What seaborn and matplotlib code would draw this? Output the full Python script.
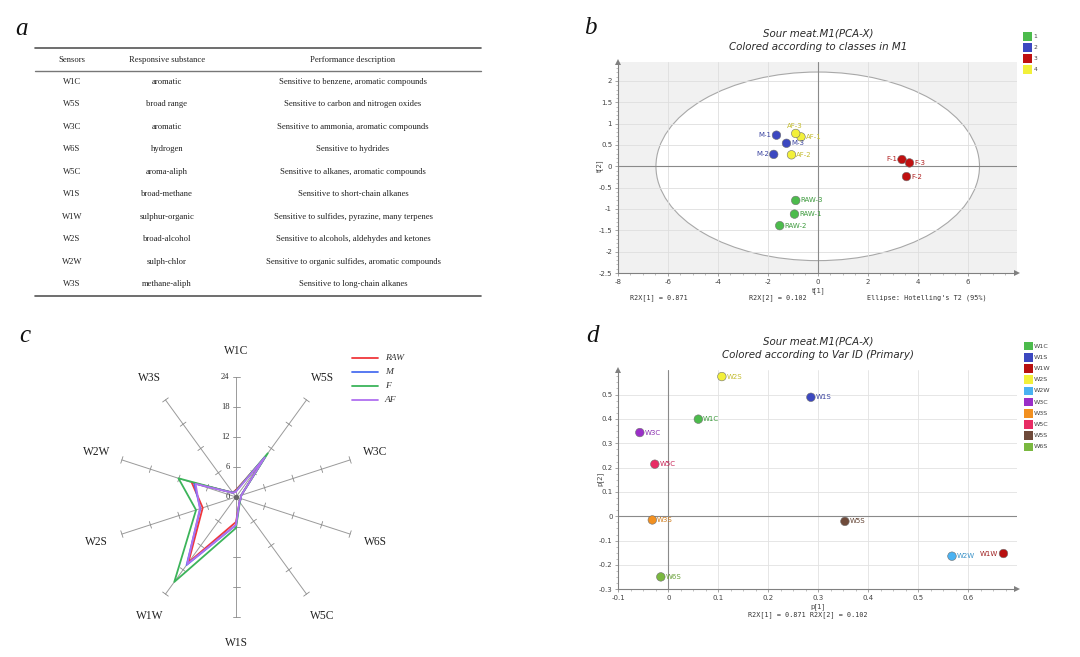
import numpy as np
import pandas as pd
import matplotlib
matplotlib.use("Agg")
import matplotlib.pyplot as plt
import seaborn as sns
from matplotlib.patches import Ellipse, Rectangle
from matplotlib.ticker import MultipleLocator, FuncFormatter

# ---------------- Panel a: sensor table ----------------
table_header = ["Sensors", "Responsive substance", "Performance description"]
table_sensors = ["W1C", "W5S", "W3C", "W6S", "W5C", "W1S", "W1W", "W2S", "W2W", "W3S"]
table_substance = ["aromatic", "broad range", "aromatic", "hydrogen", "aroma-aliph",
                   "broad-methane", "sulphur-organic", "broad-alcohol", "sulph-chlor",
                   "methane-aliph"]
table_description = ["Sensitive to benzene, aromatic compounds",
                     "Sensitive to carbon and nitrogen oxides",
                     "Sensitive to ammonia, aromatic compounds",
                     "Sensitive to hydrides",
                     "Sensitive to alkanes, aromatic compounds",
                     "Sensitive to short-chain alkanes",
                     "Sensitive to sulfides, pyrazine, many terpenes",
                     "Sensitive to alcohols, aldehydes and ketones",
                     "Sensitive to organic sulfides, aromatic compounds",
                     "Sensitive to long-chain alkanes"]

# ---------------- Panel b: PCA scores ----------------
score_labels = ["RAW-1", "RAW-2", "RAW-3", "M-1", "M-2", "M-3",
                "F-1", "F-2", "F-3", "AF-1", "AF-2", "AF-3"]
score_class = ["1", "1", "1", "2", "2", "2", "3", "3", "3", "4", "4", "4"]
score_t1 = [-0.93, -1.52, -0.88, -1.65, -1.76, -1.25, 3.37, 3.55, 3.67, -0.67, -1.05, -0.88]
score_t2 = [-1.12, -1.39, -0.80, 0.73, 0.28, 0.54, 0.16, -0.24, 0.08, 0.69, 0.27, 0.77]
ellipse_semi = [6.47, 2.21]
class_names = ["1", "2", "3", "4"]
r2x = [0.871, 0.102]

# ---------------- Panel c: radar ----------------
radar_sensors = ["W1C", "W5S", "W3C", "W6S", "W5C", "W1S", "W1W", "W2S", "W2W", "W3S"]
radar_raw = [1.4, 9.5, 1.1, 1.0, 1.2, 5.0, 16.2, 7.0, 9.3, 1.1]
radar_m = [1.2, 10.0, 1.1, 1.0, 1.2, 5.6, 16.8, 7.5, 8.8, 1.1]
radar_f = [1.2, 10.8, 1.1, 1.0, 1.3, 6.2, 21.0, 8.4, 12.1, 1.0]
radar_af = [1.1, 9.8, 1.1, 1.0, 1.2, 5.6, 16.6, 7.6, 8.5, 1.0]
radar_groups = ["RAW", "M", "F", "AF"]
radar_ticks = [0, 6, 12, 18, 24]

# ---------------- Panel d: PCA loadings ----------------
load_vars = ["W1C", "W1S", "W1W", "W2S", "W2W", "W3C", "W3S", "W5C", "W5S", "W6S"]
load_p1 = [0.060, 0.285, 0.670, 0.107, 0.567, -0.057, -0.032, -0.027, 0.353, -0.015]
load_p2 = [0.399, 0.489, -0.153, 0.574, -0.164, 0.344, -0.015, 0.214, -0.021, -0.249]

# ---------------- style ----------------
sns.set_style("white")
plt.rcParams["font.family"] = ["DejaVu Sans"]
SERIF = "Liberation Serif"

W, H = 1080, 657
fig = plt.figure(figsize=(W / 100, H / 100), dpi=100)


def rect(x0, y0, x1, y1):
    return [x0 / W, 1 - y1 / H, (x1 - x0) / W, (y1 - y0) / H]


# overlay axes in pixel coordinates for annotations
ov = fig.add_axes([0, 0, 1, 1], zorder=10)
ov.set_xlim(0, W)
ov.set_ylim(H, 0)
ov.axis("off")

# panel letters
for letter, (px, py) in zip("abcd", [(22, 29), (590, 28), (25, 336), (592, 336)]):
    ov.text(px, py, letter, fontsize=18, fontstyle="italic", family=SERIF,
            ha="center", va="center", color="#111")

# ---------------- Panel a ----------------
tab_x0, tab_x1 = 35, 481
col_x = [72, 167, 353]
ov.plot([tab_x0, tab_x1], [48, 48], color="#555", lw=1.2)
ov.plot([tab_x0, tab_x1], [71, 71], color="#777", lw=1.0)
ov.plot([tab_x0, tab_x1], [296, 296], color="#555", lw=1.2)
for cx, txt in zip(col_x, table_header):
    ov.text(cx, 59.5, txt, family=SERIF, fontsize=6.2, ha="center", va="center", color="#222")
row_y0, row_dy = 82, 22.45
for i, (s, sub, d) in enumerate(zip(table_sensors, table_substance, table_description)):
    y = row_y0 + i * row_dy
    for cx, txt in zip(col_x, (s, sub, d)):
        ov.text(cx, y, txt, family=SERIF, fontsize=6.2, ha="center", va="center", color="#222")

# ---------------- Panel b ----------------
class_colors = {"1": "#4cbb4c", "2": "#3c48c0", "3": "#c01010", "4": "#f2f03a"}
label_colors = {"1": "#3c9a3c", "2": "#3b44a0", "3": "#b02020", "4": "#c4bc30"}
label_pos = {"RAW-1": "r", "RAW-2": "r", "RAW-3": "r", "M-1": "l", "M-2": "l", "M-3": "r",
             "F-1": "l", "F-2": "r", "F-3": "r", "AF-1": "r", "AF-2": "r", "AF-3": "u"}

axb = fig.add_axes(rect(617.7, 62, 1017, 273))
axb.set_facecolor("#f1f1f1")
axb.set_xlim(-8, 7.97)
axb.set_ylim(-2.5, 2.445)
axb.add_patch(Ellipse((0, 0), 2 * ellipse_semi[0], 2 * ellipse_semi[1], facecolor="white",
                      edgecolor="#a8a8a8", lw=0.8, zorder=0.4))
for yv in np.arange(-2.0, 2.5, 0.5):
    axb.axhline(yv, color="#dedede", lw=0.6, zorder=0.6)
for xv in range(-6, 8, 2):
    axb.axvline(xv, color="#dedede", lw=0.6, zorder=0.6)
axb.axhline(0, color="#8a8a8a", lw=0.8, zorder=1)
axb.axvline(0, color="#8a8a8a", lw=0.8, zorder=1)

df_b = pd.DataFrame({"t1": score_t1, "t2": score_t2, "cls": score_class, "lab": score_labels})
sns.scatterplot(data=df_b, x="t1", y="t2", hue="cls", palette=class_colors, s=38,
                edgecolor="#707070", linewidth=0.4, legend=False, ax=axb, zorder=3)
for _, r in df_b.iterrows():
    p = label_pos[r["lab"]]
    if p == "r":
        ha, va, off = "left", "center", (3.5, 0)
    elif p == "l":
        ha, va, off = "right", "center", (-3.5, 0)
    else:
        ha, va, off = "center", "bottom", (-1, 3)
    axb.annotate(r["lab"], (r["t1"], r["t2"]), xytext=off, textcoords="offset points",
                 ha=ha, va=va, fontsize=5, color=label_colors[r["cls"]], zorder=4)

fmt = FuncFormatter(lambda v, _: "%g" % v)
axb.xaxis.set_minor_locator(MultipleLocator(0.5))
axb.yaxis.set_major_locator(MultipleLocator(0.5))
axb.yaxis.set_minor_locator(MultipleLocator(0.1))
axb.set_xticks(np.arange(-8, 7, 2))
axb.xaxis.set_major_formatter(fmt)
axb.yaxis.set_major_formatter(fmt)
axb.set_xlabel("")
axb.set_ylabel("")

# ---------------- Panel d ----------------
var_colors = {"W1C": "#4cbb4c", "W1S": "#3c48c0", "W1W": "#b81010", "W2S": "#f2f03a",
              "W2W": "#4ab2f2", "W3C": "#9a2ec8", "W3S": "#f29020", "W5C": "#e82c64",
              "W5S": "#6e4a3a", "W6S": "#7ab840"}
var_text = {"W1C": "#3c9a3c", "W1S": "#3b44a0", "W1W": "#a02020", "W2S": "#c4bc30",
            "W2W": "#3a92c8", "W3C": "#8a2eb0", "W3S": "#d07a18", "W5C": "#c82456",
            "W5S": "#604030", "W6S": "#68a038"}

axd = fig.add_axes(rect(618.3, 370, 1017, 589.3))
axd.set_facecolor("white")
axd.set_xlim(-0.1, 0.697)
axd.set_ylim(-0.3, 0.601)
for yv in np.arange(-0.2, 0.55, 0.1):
    axd.axhline(yv, color="#e2e2e2", lw=0.6, zorder=0.6)
for xv in np.arange(0.1, 0.65, 0.1):
    axd.axvline(xv, color="#e2e2e2", lw=0.6, zorder=0.6)
axd.axhline(0, color="#8a8a8a", lw=0.8, zorder=1)
axd.axvline(0, color="#8a8a8a", lw=0.8, zorder=1)
df_d = pd.DataFrame({"p1": load_p1, "p2": load_p2, "var": load_vars})
sns.scatterplot(data=df_d, x="p1", y="p2", hue="var", palette=var_colors, s=38,
                edgecolor="#707070", linewidth=0.4, legend=False, ax=axd, zorder=3)
for _, r in df_d.iterrows():
    if r["var"] == "W1W":
        off, ha = (-4, 0), "right"
    else:
        off, ha = (3.5, 0), "left"
    axd.annotate(r["var"], (r["p1"], r["p2"]), xytext=off, textcoords="offset points",
                 ha=ha, va="center", fontsize=5, color=var_text[r["var"]], zorder=4)
axd.xaxis.set_minor_locator(MultipleLocator(0.025))
axd.yaxis.set_minor_locator(MultipleLocator(0.025))
axd.set_xticks(np.round(np.arange(-0.1, 0.65, 0.1), 2))
axd.set_yticks(np.round(np.arange(-0.3, 0.55, 0.1), 2))
axd.xaxis.set_major_formatter(fmt)
axd.yaxis.set_major_formatter(fmt)
axd.set_xlabel("")
axd.set_ylabel("")

for ax in (axb, axd):
    for s in ("top", "right"):
        ax.spines[s].set_visible(False)
    for s in ("left", "bottom"):
        ax.spines[s].set_color("#808080")
        ax.spines[s].set_linewidth(0.8)
    ax.tick_params(which="major", direction="out", length=2.5, width=0.5, colors="#808080",
                   labelsize=5, labelcolor="#444", pad=1.5, left=True, bottom=True)
    ax.tick_params(which="minor", direction="out", length=1.3, width=0.4, colors="#909090",
                   left=True, bottom=True)
    ax.plot([1], [0], marker=">", transform=ax.transAxes, clip_on=False, color="#808080",
            ms=4, mew=0, zorder=5)
    ax.plot([0], [1], marker="^", transform=ax.transAxes, clip_on=False, color="#808080",
            ms=4, mew=0, zorder=5)

# titles and axis texts for b and d
TITLE_KW = dict(fontsize=7.4, fontstyle="italic", ha="center", va="center", color="#2a2a2a")
ov.text(818, 34, "Sour meat.M1(PCA-X)", **TITLE_KW)
ov.text(818, 47.5, "Colored according to classes in M1", **TITLE_KW)
ov.text(818, 341, "Sour meat.M1(PCA-X)", **TITLE_KW)
ov.text(818, 354.5, "Colored according to Var ID (Primary)", **TITLE_KW)
ov.text(818, 290.5, "t[1]", fontsize=5, ha="center", va="center", color="#444")
ov.text(599.5, 166, "t[2]", fontsize=5, ha="center", va="center", rotation=90, color="#444")
ov.text(818, 607, "p[1]", fontsize=5, ha="center", va="center", color="#444")
ov.text(599.5, 479, "p[2]", fontsize=5, ha="center", va="center", rotation=90, color="#444")
MONO = dict(family="DejaVu Sans Mono", fontsize=4.9, ha="center", va="center", color="#333")
ov.text(659, 297.5, "R2X[1] = %.3f" % r2x[0], **MONO)
ov.text(778, 297.5, "R2X[2] = %.3f" % r2x[1], **MONO)
ov.text(927, 297.5, "Ellipse: Hotelling's T2 (95%)", **MONO)
ov.text(808, 615, "R2X[1] = %.3f R2X[2] = %.3f" % (r2x[0], r2x[1]), **MONO)

# legends for b and d (colored squares)
for i, c in enumerate(class_names):
    y = 36.7 + i * 11
    ov.add_patch(Rectangle((1023, y - 4.3), 8.6, 8.6, facecolor=class_colors[c], edgecolor="none"))
    ov.text(1033.5, y, c, fontsize=4.3, ha="left", va="center", color="#444")
for i, v in enumerate(load_vars):
    y = 346 + i * 11.2
    ov.add_patch(Rectangle((1024, y - 4.3), 8.6, 8.6, facecolor=var_colors[v], edgecolor="none"))
    ov.text(1034, y, v, fontsize=4.6, ha="left", va="center", color="#444")

# ---------------- Panel c: radar ----------------
axc = fig.add_axes(rect(56, 337, 416, 657))
axc.set_xlim(-36, 36)
axc.set_ylim(-32, 32)
axc.axis("off")
n = len(radar_sensors)
ang = np.deg2rad(np.arange(n) * 360.0 / n)
rmax = radar_ticks[-1]
for a in ang:
    ux, uy = np.sin(a), np.cos(a)
    axc.plot([0, rmax * ux], [0, rmax * uy], color="#9a9a9a", lw=0.7, zorder=1)
    for t in radar_ticks[1:]:
        px, py = -uy, ux
        axc.plot([t * ux - 0.7 * px, t * ux + 0.7 * px], [t * uy - 0.7 * py, t * uy + 0.7 * py],
                 color="#8a8a8a", lw=0.6, zorder=1)
for s, a in zip(radar_sensors, ang):
    axc.text(29.3 * np.sin(a), 29.3 * np.cos(a), s, family=SERIF, fontsize=8.3,
             ha="center", va="center", color="#222")
for t in radar_ticks:
    axc.text(-1.3, t, str(t), family=SERIF, fontsize=6.2, ha="right", va="center", color="#333")
axc.plot([0], [0], "o", color="#666", ms=2.8, zorder=5)

radar_vals = {"RAW": radar_raw, "M": radar_m, "F": radar_f, "AF": radar_af}
radar_colors = {"RAW": "#f0373c", "M": "#4a6ef0", "F": "#3cb45a", "AF": "#b070f0"}
rows = []
for g in radar_groups:
    vals = radar_vals[g] + [radar_vals[g][0]]
    aa = np.append(ang, ang[0])
    for k, (v, a) in enumerate(zip(vals, aa)):
        rows.append({"grp": g, "k": k, "x": v * np.sin(a), "y": v * np.cos(a)})
df_c = pd.DataFrame(rows)
sns.lineplot(data=df_c, x="x", y="y", hue="grp", palette=radar_colors, sort=False,
             estimator=None, lw=1.3, legend=False, ax=axc, zorder=3)
axc.set_xlim(-36, 36)
axc.set_ylim(-32, 32)

# radar legend
for i, g in enumerate(radar_groups):
    y = 358.3 + i * 13.8
    ov.plot([352, 378], [y, y], color=radar_colors[g], lw=1.3)
    ov.text(385, y, g, family=SERIF, fontstyle="italic", fontsize=6.8, ha="left", va="center",
            color="#333")

fig.savefig("out.png", dpi=100)
